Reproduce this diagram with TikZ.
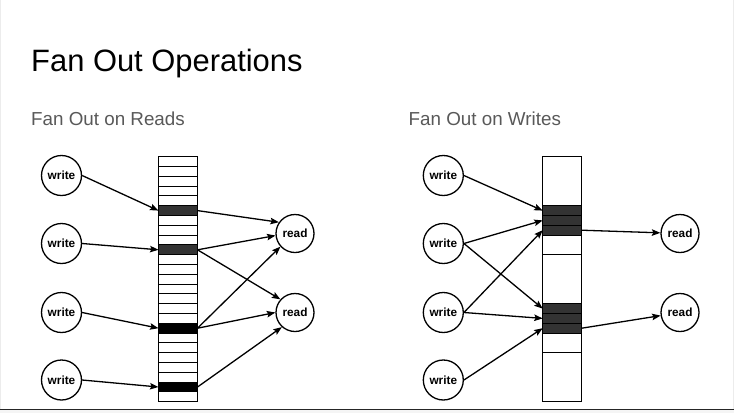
\documentclass[tikz,border=0pt]{standalone}
\usepackage{fontspec}
\setmainfont{Liberation Sans}
\usetikzlibrary{arrows.meta}
\definecolor{subgray}{HTML}{595959}
\definecolor{darkcell}{HTML}{333333}
\tikzset{
  wcirc/.style={circle, draw=black, line width=1.3pt, minimum size=40pt, inner sep=0pt, font=\bfseries\fontsize{11.8}{12}\selectfont},
  rcirc/.style={circle, draw=black, line width=1.3pt, minimum size=38pt, inner sep=0pt, font=\bfseries\fontsize{11.8}{12}\selectfont},
  cell/.style={rectangle, draw=black, line width=0.9pt, minimum width=39pt, minimum height=9.8pt, inner sep=0pt, outer sep=0pt},
  darkc/.style={cell, fill=darkcell},
  blackc/.style={cell, fill=black},
  arr/.style={-{Stealth[length=8.5pt,width=6.5pt,inset=1.5pt]}, line width=1.3pt},
  frame/.style={draw=black, line width=1.5pt}
}
\begin{document}
\begin{tikzpicture}[x=1pt,y=-1pt]
\useasboundingbox (0,0) rectangle (734,413);
\fill[white] (0,0) rectangle (734,413);
\draw[gray!15, line width=0.8pt] (0.5,0) -- (0.5,409) (733.5,0) -- (733.5,409);
\fill[gray!8] (0,410) rectangle (734,413);
\draw[black!85, line width=1.2pt] (0,409.6) -- (734,409.6);

% titles
\node[anchor=base west, inner sep=0pt, font=\fontsize{30.9}{31}\selectfont] (title) at (31,71.7) {Fan Out Operations};
\node[anchor=base west, inner sep=0pt, text=subgray, font=\fontsize{18.8}{19}\selectfont] (subL) at (31,125) {Fan Out on Reads};
\node[anchor=base west, inner sep=0pt, text=subgray, font=\fontsize{18.8}{19}\selectfont] (subR) at (408.5,125) {Fan Out on Writes};

% ---------- left diagram ----------
\def\yo{156.7}
\def\hh{9.8}
\foreach \i in {0,...,24} {
  \ifnum\i=5 \def\st{darkc}\else\ifnum\i=9 \def\st{darkc}\else\ifnum\i=17 \def\st{blackc}\else\ifnum\i=23 \def\st{blackc}\else\def\st{cell}\fi\fi\fi\fi
  \node[\st] (L\i) at (178,{\yo+(\i+0.5)*\hh}) {};
}
\draw[frame] (L0.north west) rectangle (L24.south east);

\node[wcirc] (lw1) at (61.5,175.5) {write};
\node[wcirc] (lw2) at (61.5,243.5) {write};
\node[wcirc] (lw3) at (61.5,312.5) {write};
\node[wcirc] (lw4) at (61.5,380) {write};
\node[rcirc] (lr1) at (295,233.5) {read};
\node[rcirc] (lr2) at (295,312.5) {read};

\draw[arr] (lw1.east) -- (L5.west);
\draw[arr] (lw2.east) -- (L9.west);
\draw[arr] (lw3.east) -- (L17.west);
\draw[arr] (lw4.east) -- (L23.west);

\draw[arr] (L5.east) -- (lr1.145);
\draw[arr] (L9.east) -- (lr1.186);
\draw[arr] (L9.east) -- (lr2.138);
\draw[arr] (L17.east) -- (lr1.222);
\draw[arr] (L17.east) -- (lr2.180);
\draw[arr] (L23.east) -- (lr2.228);

% ---------- right diagram ----------
\tikzset{blk/.style={rectangle, draw=black, line width=0.9pt, minimum width=39pt, inner sep=0pt, outer sep=0pt}}
\node[blk, minimum height={5*\hh}] (RA) at (562.2,{\yo+2.5*\hh}) {};
\foreach \i in {5,6,7,15,16,17} {
  \node[darkc] (R\i) at (562.2,{\yo+(\i+0.5)*\hh}) {};
}
\node[blk, minimum height={2*\hh}] (RB) at (562.2,{\yo+9*\hh}) {};
\node[blk, minimum height={5*\hh}] (RC) at (562.2,{\yo+12.5*\hh}) {};
\node[blk, minimum height={2*\hh}] (RD) at (562.2,{\yo+19*\hh}) {};
\node[blk, minimum height={5*\hh}] (RE) at (562.2,{\yo+22.5*\hh}) {};
\draw[frame] (RA.north west) rectangle (RE.south east);

\node[wcirc] (rw1) at (443.3,175.5) {write};
\node[wcirc] (rw2) at (443.3,243.5) {write};
\node[wcirc] (rw3) at (443.3,312.5) {write};
\node[wcirc] (rw4) at (443.3,380) {write};
\node[rcirc] (rr1) at (680,233.5) {read};
\node[rcirc] (rr2) at (680,312.5) {read};

\draw[arr] (rw1.east) -- (R5.west);
\draw[arr] (rw2.east) -- (R6.west);
\draw[arr] (rw2.east) -- (R15.west);
\draw[arr] (rw3.east) -- (R7.west);
\draw[arr] (rw3.east) -- (R16.west);
\draw[arr] (rw4.east) -- (R17.west);

\draw[arr] (R7.east) -- (rr1);
\draw[arr] (R17.east) -- (rr2);
\end{tikzpicture}
\end{document}
